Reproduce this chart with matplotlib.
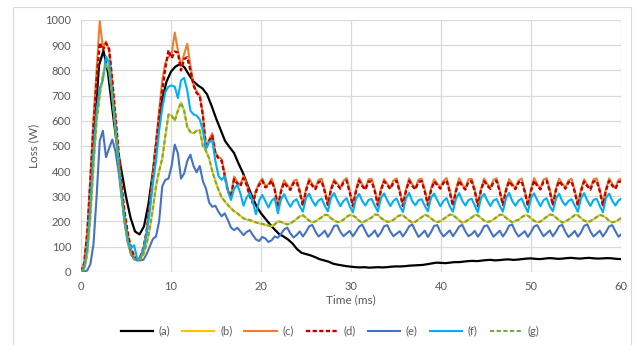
import matplotlib
matplotlib.use("Agg")
import matplotlib.pyplot as plt
from matplotlib.patches import Rectangle
import numpy as np

STEP_MS = 1 / 2.88      # coloured traces: 8 samples per ripple period
BLACK_STEP_MS = 0.5     # black trace is smooth, coarser sampling is enough

LABELS = ["(a)", "(b)", "(c)", "(d)", "(e)", "(f)", "(g)"]

# (a) black, 0.5 ms steps
LOSS_A = [
    0, 40, 250, 560, 820, 878, 790, 640, 500, 400,
    298, 215, 160, 148, 180, 270, 400, 560, 680, 755,
    795, 815, 825, 812, 782, 756, 740, 728, 705, 660,
    610, 565, 520, 495, 472, 430, 392, 345, 300, 260,
    232, 210, 188, 168, 150, 140, 128, 112, 90, 75,
    70, 65, 58, 50, 45, 40, 32, 28, 25, 22,
    20, 18, 17, 18, 16, 17, 18, 17, 18, 20,
    21, 21, 22, 24, 25, 26, 27, 30, 33, 36,
    35, 34, 36, 38, 38, 40, 42, 43, 42, 44,
    46, 47, 45, 46, 48, 49, 47, 48, 50, 52,
    53, 51, 50, 52, 54, 53, 51, 52, 54, 55,
    53, 52, 54, 55, 53, 52, 53, 54, 53, 51,
    50,
]

# (c) orange
LOSS_C = [
    0, 35, 160, 380, 610, 800, 995, 890, 915, 880,
    755, 610, 470, 330, 225, 145, 90, 58, 48, 58,
    92, 158, 262, 385, 510, 640, 760, 830, 855, 865,
    950, 880, 815, 865, 905, 820, 745, 715, 700, 625,
    495, 525, 550, 475, 455, 448, 388, 325, 302, 378,
    356, 346, 380, 350, 305, 276, 324, 352, 370, 340,
    348, 370, 330,
    258, 324, 364, 344, 329, 360, 366, 322,
    266, 328, 370, 348, 332, 365, 370, 325,
    268, 330, 367, 350, 334, 362, 372, 321,
    263, 326, 372, 346, 330, 367, 369, 327,
    267, 329, 368, 349, 333, 363, 371, 323,
    265, 327, 371, 347, 331, 366, 370, 326,
    268, 330, 367, 350, 334, 361, 372, 322,
    266, 326, 372, 346, 330, 367, 369, 327,
    263, 329, 370, 348, 333, 365, 371, 324,
    269, 328, 368, 349, 332, 362, 370, 323,
    265, 327, 372, 347, 331, 366, 372, 326,
    267, 331, 370, 350, 334, 363, 369, 322,
    266, 326, 367, 346, 330, 367, 371, 327,
    268, 329, 371, 348, 333, 365, 370,
]

# (d) red dashed
LOSS_D = [
    0, 30, 150, 360, 580, 760, 910, 880, 908, 885,
    760, 620, 480, 340, 230, 150, 95, 62, 50, 60,
    95, 160, 260, 380, 500, 620, 720, 810, 880, 848,
    875, 870, 800, 845, 852, 800, 740, 710, 698, 620,
    490, 520, 540, 470, 450, 440, 380, 320, 298, 368,
    350, 340, 372, 345, 300, 272, 318, 345, 362, 335,
    342, 362, 325,
    255, 318, 355, 338, 325, 352, 357, 316,
    262, 322, 360, 342, 328, 356, 360, 318,
    265, 325, 358, 344, 330, 354, 362, 315,
    260, 320, 362, 340, 326, 358, 359, 320,
    263, 324, 359, 343, 329, 355, 361, 317,
    261, 321, 361, 341, 327, 357, 360, 319,
    264, 323, 358, 344, 330, 353, 362, 316,
    262, 320, 362, 340, 326, 358, 359, 320,
    260, 324, 360, 342, 329, 356, 361, 318,
    265, 322, 359, 343, 328, 354, 360, 317,
    261, 321, 362, 341, 327, 357, 362, 319,
    263, 325, 360, 344, 330, 355, 359, 316,
    262, 320, 358, 340, 326, 358, 361, 320,
    264, 323, 361, 342, 329, 356, 360,
]

# (e) blue
LOSS_E = [
    0, 0, 5, 30, 110, 300, 520, 560, 455, 490,
    525, 480, 400, 300, 200, 120, 70, 50, 45, 45,
    48, 70, 100, 130, 140, 200, 340, 365, 370, 420,
    505, 470, 370, 390, 440, 465, 420, 395, 420, 360,
    330, 275, 258, 262, 238, 220, 232, 205, 175, 165,
    175, 160, 145, 158, 165, 145, 128, 122, 138, 132,
    118, 125, 140,
    135, 150, 168, 175, 152, 136, 146, 160,
    140, 158, 180, 186, 160, 140, 150, 163,
    138, 157, 182, 184, 158, 141, 152, 162,
    141, 159, 179, 187, 161, 139, 149, 164,
    139, 156, 181, 185, 159, 141, 151, 161,
    140, 158, 180, 188, 162, 138, 150, 163,
    138, 157, 182, 185, 158, 140, 152, 164,
    141, 159, 179, 186, 160, 141, 149, 162,
    139, 156, 181, 184, 161, 139, 151, 163,
    140, 158, 183, 187, 159, 140, 150, 161,
    138, 157, 180, 185, 162, 141, 152, 164,
    141, 159, 181, 186, 158, 138, 149, 162,
    139, 156, 182, 188, 160, 140, 151, 163,
    140, 158, 180, 185, 161, 139, 150,
]

# (f) cyan
LOSS_F = [
    0, 15, 90, 260, 470, 640, 730, 760, 855, 830,
    700, 580, 440, 300, 190, 120, 95, 105, 50, 55,
    90, 150, 240, 350, 440, 560, 650, 715, 735, 740,
    735, 690, 760, 770, 720, 640, 625, 620, 605, 560,
    490, 515, 520, 440, 380, 365, 380, 320, 285, 330,
    345, 312, 262, 295, 312, 275, 228, 282, 305, 280,
    255, 282, 292,
    232, 288, 308, 280, 258, 280, 288, 260,
    238, 292, 310, 282, 262, 283, 290, 262,
    240, 294, 312, 284, 260, 281, 292, 260,
    236, 290, 309, 281, 263, 285, 289, 263,
    239, 293, 311, 283, 261, 282, 291, 261,
    237, 291, 313, 280, 264, 284, 288, 262,
    240, 294, 310, 284, 260, 281, 292, 260,
    238, 290, 312, 282, 263, 285, 290, 263,
    236, 293, 309, 283, 261, 283, 289, 261,
    239, 291, 313, 281, 262, 282, 291, 262,
    237, 294, 311, 284, 260, 284, 292, 260,
    240, 290, 310, 280, 264, 281, 288, 263,
    238, 292, 312, 283, 261, 285, 290, 261,
    236, 293, 310, 282, 263, 283, 291,
]

# (g) green dashed
LOSS_G = [
    0, 10, 70, 220, 420, 600, 700, 780, 825, 800,
    700, 570, 430, 300, 190, 115, 70, 50, 45, 50,
    70, 110, 170, 250, 340, 400, 450, 540, 625, 620,
    600, 640, 672, 640, 575, 555, 550, 560, 562, 500,
    480, 450, 400, 360, 325, 295, 280, 265, 252, 240,
    232, 222, 212, 207, 205, 200, 196, 192, 190, 186,
    183, 181, 188,
    200, 198, 192, 188, 192, 200, 210, 220,
    224, 214, 203, 196, 200, 208, 216, 226,
    225, 212, 204, 197, 199, 207, 218, 225,
    223, 215, 202, 195, 201, 209, 215, 227,
    226, 213, 205, 198, 200, 206, 217, 224,
    224, 214, 203, 196, 198, 208, 216, 226,
    222, 212, 202, 197, 201, 209, 218, 227,
    225, 215, 204, 195, 199, 207, 215, 225,
    224, 213, 203, 198, 200, 208, 217, 226,
    226, 214, 205, 196, 202, 206, 216, 224,
    223, 212, 202, 197, 199, 209, 218, 227,
    225, 215, 204, 195, 200, 207, 215, 225,
    224, 213, 203, 198, 201, 208, 217, 226,
    222, 214, 202, 196, 199, 206, 216,
]

# (b) yellow lies under (g) for the whole record
LOSS_B = LOSS_G

SERIES = [
    (LOSS_A, BLACK_STEP_MS, "#000000", "-", 1.6),
    (LOSS_B, STEP_MS, "#FFC000", "-", 1.5),
    (LOSS_C, STEP_MS, "#ED7D31", "-", 1.5),
    (LOSS_D, STEP_MS, "#C00000", (0, (1.8, 1.0)), 1.7),
    (LOSS_E, STEP_MS, "#4472C4", "-", 1.5),
    (LOSS_F, STEP_MS, "#00B0F0", "-", 1.5),
    (LOSS_G, STEP_MS, "#70AD47", (0, (2.0, 1.2)), 1.5),
]

GRID = "#D9D9D9"
TEXT = "#595959"

plt.rcParams["font.family"] = ["Lato", "DejaVu Sans"]

W, H = 641, 345
fig = plt.figure(figsize=(W / 100, H / 100), dpi=100)
ax = fig.add_axes([81 / W, 1 - 271.7 / H, 540 / W, 251.7 / H])

for (vals, step, color, ls, lw), label in zip(SERIES, LABELS):
    t = np.arange(len(vals)) * step
    ax.plot(t, vals, color=color, linestyle=ls, linewidth=lw, label=label,
            solid_joinstyle="round", dash_capstyle="butt")

ax.set_xlim(0, 60)
ax.set_ylim(0, 1000)
ax.set_xticks(np.arange(0, 61, 10))
ax.set_yticks(np.arange(0, 1001, 100))
ax.grid(True, color=GRID, linewidth=0.9)
ax.set_axisbelow(True)
for s in ax.spines.values():
    s.set_visible(False)
ax.tick_params(length=0, labelsize=8, colors=TEXT)
ax.tick_params(axis="y", pad=7)
ax.tick_params(axis="x", pad=7)

ax.set_xlabel("Time (ms)", fontsize=8.5, color=TEXT)
ax.set_ylabel("Loss (W)", fontsize=8.5, color=TEXT)
ax.xaxis.set_label_coords(0.5, -0.088)
ax.yaxis.set_label_coords(-0.078, 0.5)

ax.legend(loc="center", bbox_to_anchor=(330 / W, 1 - 331 / H),
          bbox_transform=fig.transFigure, ncol=7, frameon=False,
          fontsize=8, handlelength=2.9, handletextpad=0.5,
          columnspacing=1.1, labelcolor=TEXT)

fig.patches.append(Rectangle((13 / W, -0.01), (631 - 13) / W, 1.01 - 7 / H,
                             transform=fig.transFigure, fill=False,
                             edgecolor=GRID, linewidth=0.8))

fig.savefig("out.png", dpi=100)
